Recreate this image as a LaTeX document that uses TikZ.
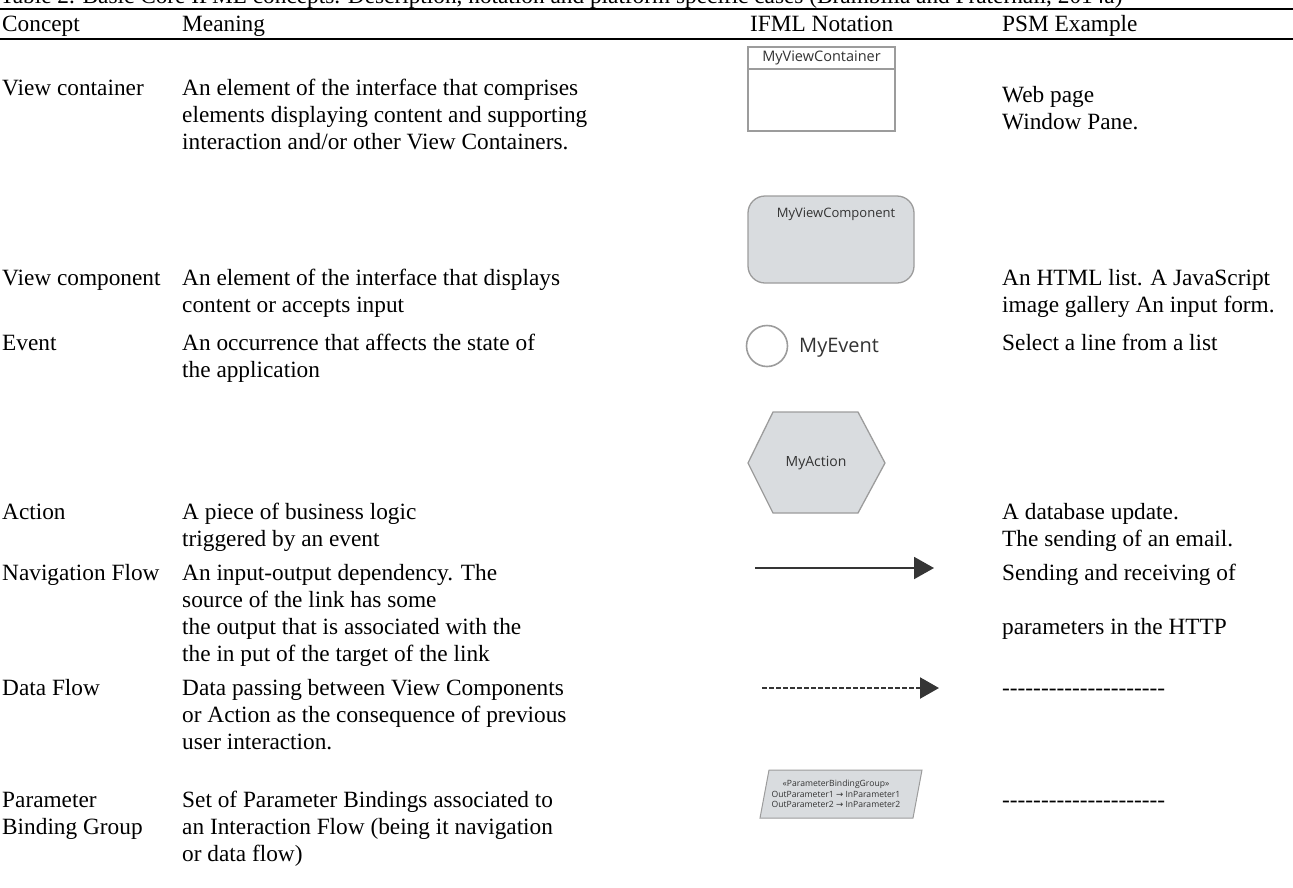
\documentclass[tikz,border=0pt]{standalone}
\usepackage{fontspec}
\setmainfont{Liberation Serif}
\newfontfamily\nfont{Open Sans}
\newfontfamily\dvs{DejaVu Sans}
\usetikzlibrary{arrows.meta}
\definecolor{shapefill}{HTML}{D9DCDF}
\definecolor{shapeline}{HTML}{9C9C9C}
\definecolor{ntext}{HTML}{333333}
\definecolor{arrowc}{HTML}{353535}
\newcommand\hy{\mbox{-}}
\newcommand\dashrow{\hy\hy\hy\hy\hy\hy\hy\hy\hy\hy\hy\hy\hy\hy\hy\hy\hy\hy\hy\hy\hy}
\begin{document}
\begin{tikzpicture}[x=1pt,y=-1pt,
  cell/.style={inner sep=0pt, anchor=base west, font=\fontsize{23.3}{27}\selectfont},
  shapebox/.style={draw=shapeline, line width=1.3pt, fill=shapefill},
  ntxt/.style={text=ntext, inner sep=0pt},
  flowline/.style={draw=arrowc, line width=2pt, -{Triangle[length=20pt,width=22pt]}},
  dataline/.style={draw=arrowc, line width=2.2pt, dash pattern=on 5pt off 2pt, -{Triangle[length=19pt,width=21pt]}}]
\useasboundingbox (0,0) rectangle (1293,887);
\clip (0,0) rectangle (1293,887);

% title and rules
\node[cell] (title) at (0,3) {Table 2. Basic Core IFML concepts. Description, notation and platform specific cases (Brambilla and Fraternali, 2014a)};
\draw[line width=2pt] (0,9) coordinate (r1a) -- (1293,9) coordinate (r1b);
\node[cell] (h1) at (2,31) {Concept};
\node[cell] (h2) at (182,31) {Meaning};
\node[cell] (h3) at (750,31) {IFML Notation};
\node[cell] (h4) at (1002,31) {PSM Example};
\draw[line width=1.2pt] (0,39) coordinate (r2a) -- (1293,39) coordinate (r2b);

% View container
\node[cell] (c1) at (2,95) {View container};
\node[cell] (m1a) at (182,95) {An element of the interface that comprises};
\node[cell] (m1b) at (182,122) {elements displaying content and supporting};
\node[cell] (m1c) at (182,149) {interaction and/or other View Containers.};
\node[cell] (p1a) at (1002,102) {Web page};
\node[cell] (p1b) at (1002,129) {Window Pane.};
\draw[draw=shapeline, line width=1.3pt, fill=white] (748,47) rectangle (895,131);
\draw[draw=shapeline, line width=1.3pt] (748,69) -- (895,69);
\node[ntxt, font=\nfont\fontsize{14.5}{16}\selectfont] (vc) at (821.5,58) {MyViewContainer};

% View component
\node[cell] (c2) at (2,285) {View component};
\node[cell] (m2a) at (182,285) {An element of the interface that displays};
\node[cell] (m2b) at (182,312) {content or accepts input};
\node[cell] (p2a) at (1002,285) {An HTML list. A JavaScript};
\node[cell] (p2b) at (1002,312) {image gallery An input form.};
\draw[shapebox, rounded corners=17pt] (748,196) rectangle (914,283);
\node[ntxt, font=\nfont\fontsize{13}{15}\selectfont] (vcomp) at (836,214) {MyViewComponent};

% Event
\node[cell] (c3) at (2,350) {Event};
\node[cell] (m3a) at (182,350) {An occurrence that affects the state of};
\node[cell] (m3b) at (182,377) {the application};
\node[cell] (p3a) at (1002,350) {Select a line from a list};
\draw[draw=shapeline, line width=1.6pt, fill=white] (767,346) circle (20.5);
\node[ntxt, anchor=west, font=\nfont\fontsize{20}{22}\selectfont] (ev) at (799,348) {MyEvent};

% Action
\node[cell] (c4) at (2,519) {Action};
\node[cell] (m4a) at (182,519) {A piece of business logic};
\node[cell] (m4b) at (182,546) {triggered by an event};
\node[cell] (p4a) at (1002,519) {A database update.};
\node[cell] (p4b) at (1002,546) {The sending of an email.};
\draw[shapebox] (773,412) -- (858,412) -- (885,463) -- (858,513) -- (773,513) -- (748,463) -- cycle;
\node[ntxt, font=\nfont\fontsize{14}{16}\selectfont] (act) at (816,463) {MyAction};

% Navigation flow
\node[cell] (c5) at (2,580) {Navigation Flow};
\node[cell] (m5a) at (182,580) {An input-output dependency. The};
\node[cell] (m5b) at (182,607) {source of the link has some};
\node[cell] (m5c) at (182,634) {the output that is associated with the};
\node[cell] (m5d) at (182,661) {the in put of the target of the link};
\node[cell] (p5a) at (1002,580) {Sending and receiving of};
\node[cell] (p5b) at (1002,634) {parameters in the HTTP};
\coordinate (nfa) at (755,568);
\coordinate (nfb) at (934,568);
\draw[flowline] (nfa) -- (nfb);

% Data flow
\node[cell] (c6) at (2,695) {Data Flow};
\node[cell] (m6a) at (182,695) {Data passing between View Components};
\node[cell] (m6b) at (182,722) {or Action as the consequence of previous};
\node[cell] (m6c) at (182,749) {user interaction.};
\node[cell] (p6a) at (1002,695) {\dashrow};
\coordinate (dfa) at (762,688);
\coordinate (dfb) at (939,688);
\draw[dataline] (dfa) -- (dfb);

% Parameter binding group
\node[cell] (c7a) at (2,807) {Parameter};
\node[cell] (c7b) at (2,834) {Binding Group};
\node[cell] (m7a) at (182,807) {Set of Parameter Bindings associated to};
\node[cell] (m7b) at (182,834) {an Interaction Flow (being it navigation};
\node[cell] (m7c) at (182,861) {or data flow)};
\node[cell] (p7a) at (1002,807) {\dashrow};
\draw[shapebox, line width=1pt] (769,770) -- (922,770) -- (913,818) -- (760,818) -- cycle;
\node[ntxt, align=center, font=\nfont\fontsize{8.6}{10.6}\selectfont] (pbg) at (836,794)
  {«ParameterBindingGroup»\\OutParameter1 {\dvs→} InParameter1\\OutParameter2 {\dvs→} InParameter2};
\end{tikzpicture}
\end{document}
